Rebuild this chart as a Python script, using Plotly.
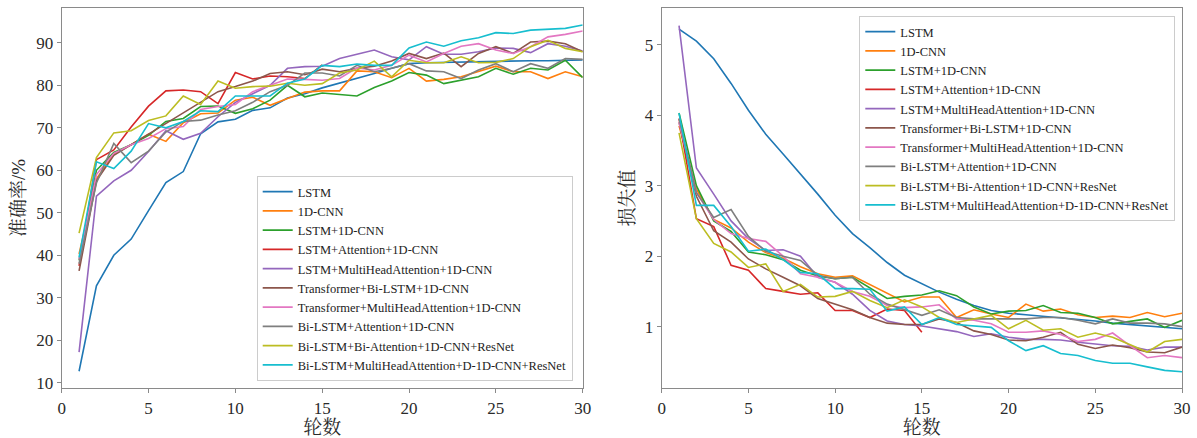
import plotly.graph_objects as go

epochs = list(range(1, 31))
epochs_att = list(range(1, 16))

model_names = [
    "LSTM",
    "1D-CNN",
    "LSTM+1D-CNN",
    "LSTM+Attention+1D-CNN",
    "LSTM+MultiHeadAttention+1D-CNN",
    "Transformer+Bi-LSTM+1D-CNN",
    "Transformer+MultiHeadAttention+1D-CNN",
    "Bi-LSTM+Attention+1D-CNN",
    "Bi-LSTM+Bi-Attention+1D-CNN+ResNet",
    "Bi-LSTM+MultiHeadAttention+D-1D-CNN+ResNet",
]

colors = ["#1f77b4", "#ff7f0e", "#2ca02c", "#d62728", "#9467bd",
          "#8c564b", "#e377c2", "#7f7f7f", "#bcbd22", "#17becf"]

# accuracy (%) per epoch
acc_lstm = [12.7, 32.8, 40.0, 43.8, 50.5, 57.1, 59.7, 68.6, 71.4, 72.0, 74.1, 74.7, 77.0, 78.0, 79.4,
            80.5, 81.6, 82.8, 84.0, 85.1, 85.3, 85.4, 85.5, 85.6, 85.6, 85.7, 85.8, 85.8, 85.9, 86.0]
acc_cnn = [40.3, 58.0, 63.8, 66.0, 68.5, 66.8, 71.2, 73.3, 73.5, 76.5, 77.2, 75.3, 76.9, 78.4, 78.7,
           78.7, 83.4, 83.2, 81.8, 84.0, 81.0, 81.4, 82.0, 83.3, 84.5, 83.2, 83.2, 81.6, 83.2, 82.0]
acc_lstm_cnn = [38.8, 60.0, 64.2, 66.0, 68.2, 71.5, 72.2, 75.0, 75.1, 73.4, 74.5, 76.5, 80.0, 77.3, 78.2,
                77.9, 77.5, 79.5, 81.0, 83.0, 82.4, 80.4, 81.2, 82.0, 84.0, 82.6, 84.0, 83.6, 85.9, 81.8]
acc_lstm_att = [37.5, 62.5, 64.8, 70.2, 75.1, 78.7, 78.9, 78.5, 75.7, 83.0, 81.5, 82.2, 82.0, 81.6, 84.8]
acc_lstm_mha = [17.2, 53.9, 57.5, 60.0, 64.4, 69.3, 67.3, 68.7, 72.6, 76.0, 78.0, 80.0, 84.0, 84.4, 84.5,
                86.3, 87.3, 88.3, 86.7, 86.0, 89.1, 87.3, 87.3, 87.9, 88.8, 88.7, 87.7, 89.8, 89.2, 88.1]
acc_trans_bilstm = [36.3, 57.5, 63.5, 66.0, 68.5, 71.0, 73.5, 76.0, 78.5, 79.7, 81.0, 82.8, 83.2, 82.5, 83.8,
                    83.2, 84.0, 84.5, 85.7, 87.5, 86.3, 87.6, 84.4, 87.5, 89.1, 87.5, 90.2, 90.4, 89.8, 87.9]
acc_trans_mha = [39.0, 59.0, 64.0, 66.0, 67.5, 69.8, 70.3, 74.3, 75.0, 75.5, 78.5, 80.0, 81.5, 81.4, 81.2,
                 81.6, 84.1, 83.6, 84.7, 87.1, 85.5, 87.5, 89.2, 89.8, 88.3, 87.5, 89.1, 91.4, 92.0, 92.8]
acc_bilstm_att = [38.0, 57.0, 66.3, 61.8, 64.5, 69.0, 71.5, 71.8, 73.0, 74.0, 76.0, 78.5, 80.0, 82.9, 82.9,
                  82.2, 84.7, 83.2, 84.0, 85.1, 83.4, 83.2, 81.6, 83.6, 85.1, 83.2, 85.1, 84.0, 86.3, 86.1]
acc_bilstm_biatt_res = [45.2, 63.0, 68.8, 69.3, 71.7, 72.8, 77.5, 75.5, 81.0, 79.3, 79.7, 79.8, 80.5, 80.0, 80.4,
                        82.9, 83.6, 85.7, 82.0, 85.9, 85.3, 85.3, 86.7, 85.3, 85.4, 86.3, 89.1, 90.6, 88.7, 87.9]
acc_bilstm_mha_res = [39.5, 62.0, 60.4, 64.5, 71.0, 70.0, 71.5, 74.0, 73.8, 77.5, 77.5, 77.5, 80.5, 81.5, 84.7,
                      84.4, 85.0, 84.7, 84.7, 88.8, 90.2, 89.2, 90.5, 91.2, 92.4, 92.2, 93.0, 93.2, 93.4, 94.2]

# loss per epoch
loss_lstm = [5.22, 5.05, 4.80, 4.45, 4.07, 3.73, 3.45, 3.17, 2.88, 2.58, 2.32, 2.12, 1.91, 1.73, 1.61,
             1.49, 1.39, 1.30, 1.23, 1.19, 1.17, 1.15, 1.13, 1.11, 1.08, 1.05, 1.03, 1.01, 0.99, 0.97]
loss_cnn = [3.85, 2.95, 2.52, 2.40, 2.20, 2.05, 1.97, 1.85, 1.75, 1.70, 1.72, 1.60, 1.48, 1.35, 1.42,
            1.42, 1.13, 1.24, 1.18, 1.13, 1.32, 1.22, 1.25, 1.17, 1.13, 1.15, 1.13, 1.20, 1.14, 1.19]
loss_lstm_cnn = [4.03, 3.00, 2.50, 2.35, 2.06, 2.02, 1.95, 1.80, 1.72, 1.68, 1.70, 1.55, 1.40, 1.43, 1.45,
                 1.51, 1.44, 1.28, 1.18, 1.22, 1.23, 1.30, 1.20, 1.19, 1.13, 1.04, 1.08, 1.11, 0.99, 1.09]
loss_lstm_att = [3.95, 2.53, 2.42, 1.87, 1.80, 1.54, 1.50, 1.46, 1.48, 1.23, 1.23, 1.13, 1.25, 1.23, 0.92]
loss_lstm_mha = [5.27, 3.25, 2.88, 2.50, 2.25, 2.08, 2.09, 2.00, 1.70, 1.63, 1.46, 1.23, 1.08, 1.03, 1.01,
                 0.97, 0.93, 0.86, 0.90, 0.85, 0.82, 0.82, 0.81, 0.78, 0.75, 0.73, 0.72, 0.67, 0.71, 0.71]
loss_trans_bilstm = [3.90, 2.85, 2.36, 2.20, 1.96, 1.82, 1.70, 1.58, 1.40, 1.32, 1.24, 1.13, 1.05, 1.03, 1.03,
                     1.11, 1.06, 0.94, 0.89, 0.81, 0.80, 0.85, 0.92, 0.75, 0.69, 0.74, 0.70, 0.64, 0.63, 0.71]
loss_trans_mha = [3.90, 2.90, 2.52, 2.32, 2.25, 2.21, 2.00, 1.75, 1.70, 1.63, 1.50, 1.43, 1.30, 1.27, 1.28,
                  1.31, 1.11, 1.09, 1.04, 0.92, 0.92, 0.94, 0.89, 0.79, 0.82, 0.91, 0.73, 0.56, 0.59, 0.56]
loss_bilstm_att = [3.95, 2.90, 2.55, 2.66, 2.28, 2.07, 2.00, 1.94, 1.73, 1.68, 1.70, 1.46, 1.32, 1.24, 1.16,
                   1.24, 1.13, 1.11, 1.11, 1.11, 1.11, 1.13, 1.13, 1.09, 1.04, 1.11, 1.05, 1.05, 1.04, 1.00]
loss_bilstm_biatt_res = [3.75, 2.53, 2.18, 2.06, 1.84, 1.89, 1.50, 1.60, 1.42, 1.43, 1.50, 1.37, 1.27, 1.38, 1.28,
                         1.13, 1.06, 1.11, 1.16, 0.97, 1.09, 0.95, 0.97, 0.85, 0.91, 0.85, 0.75, 0.64, 0.79, 0.82]
loss_bilstm_mha_res = [4.03, 2.72, 2.72, 2.42, 2.07, 2.10, 1.95, 1.77, 1.75, 1.54, 1.54, 1.53, 1.22, 1.28, 1.03,
                       1.13, 1.03, 1.01, 0.99, 0.80, 0.66, 0.73, 0.62, 0.59, 0.52, 0.48, 0.48, 0.43, 0.38, 0.36]

acc_series = [acc_lstm, acc_cnn, acc_lstm_cnn, acc_lstm_att, acc_lstm_mha, acc_trans_bilstm,
              acc_trans_mha, acc_bilstm_att, acc_bilstm_biatt_res, acc_bilstm_mha_res]
loss_series = [loss_lstm, loss_cnn, loss_lstm_cnn, loss_lstm_att, loss_lstm_mha, loss_trans_bilstm,
               loss_trans_mha, loss_bilstm_att, loss_bilstm_biatt_res, loss_bilstm_mha_res]

FONT = "Liberation Serif, Times New Roman, Noto Serif CJK SC, Noto Sans CJK SC, serif"

fig = go.Figure()
for name, color, ys in zip(model_names, colors, acc_series):
    xs = epochs if len(ys) == 30 else epochs_att
    fig.add_trace(go.Scatter(x=xs, y=ys, mode="lines", name=name,
                             line=dict(color=color, width=1.6),
                             xaxis="x", yaxis="y", legend="legend"))
for name, color, ys in zip(model_names, colors, loss_series):
    xs = epochs if len(ys) == 30 else epochs_att
    fig.add_trace(go.Scatter(x=xs, y=ys, mode="lines", name=name,
                             line=dict(color=color, width=1.6),
                             xaxis="x2", yaxis="y2", legend="legend2"))

W, H = 1197, 438
y_dom = [(H - 388) / H, (H - 8) / H]

axis_common = dict(
    showline=True, mirror=True, linecolor="#8a8a8a", linewidth=1.2,
    ticks="outside", ticklen=4, tickcolor="#8a8a8a", tickwidth=1,
    showgrid=False, zeroline=False,
    tickfont=dict(family=FONT, size=17, color="#2a2a2a"),
    automargin=False,
)

title_font = dict(family=FONT, size=19, color="#2a2a2a")

legend_common = dict(
    font=dict(family=FONT, size=12.5, color="#222"),
    bgcolor="white", bordercolor="#cccccc", borderwidth=1,
    xanchor="left", tracegroupgap=0,
    itemwidth=30,
)

fig.update_layout(
    width=W, height=H,
    margin=dict(l=0, r=0, t=0, b=0),
    paper_bgcolor="white", plot_bgcolor="white",
    xaxis=dict(domain=[61.7 / W, 582.7 / W], range=[0, 30], tickvals=[0, 5, 10, 15, 20, 25, 30],
               title=dict(text="轮数", font=title_font, standoff=4),
               anchor="y", **axis_common),
    yaxis=dict(domain=y_dom, range=[8.75, 98.2], tickvals=[10, 20, 30, 40, 50, 60, 70, 80, 90],
               title=dict(text="准确率/%", font=title_font, standoff=5),
               anchor="x", **axis_common),
    xaxis2=dict(domain=[661.7 / W, 1182 / W], range=[0, 30], tickvals=[0, 5, 10, 15, 20, 25, 30],
                title=dict(text="轮数", font=title_font, standoff=4),
                anchor="y2", **axis_common),
    yaxis2=dict(domain=y_dom, range=[0.13, 5.52], tickvals=[1, 2, 3, 4, 5],
                title=dict(text="损失值", font=title_font, standoff=5),
                anchor="x2", **axis_common),
    legend=dict(x=256.7 / W, y=1 - 381 / H, yanchor="bottom", **legend_common),
    legend2=dict(x=859.3 / W, y=1 - 16 / H, yanchor="top", **legend_common),
    showlegend=True,
)

fig.write_html("out.html")
